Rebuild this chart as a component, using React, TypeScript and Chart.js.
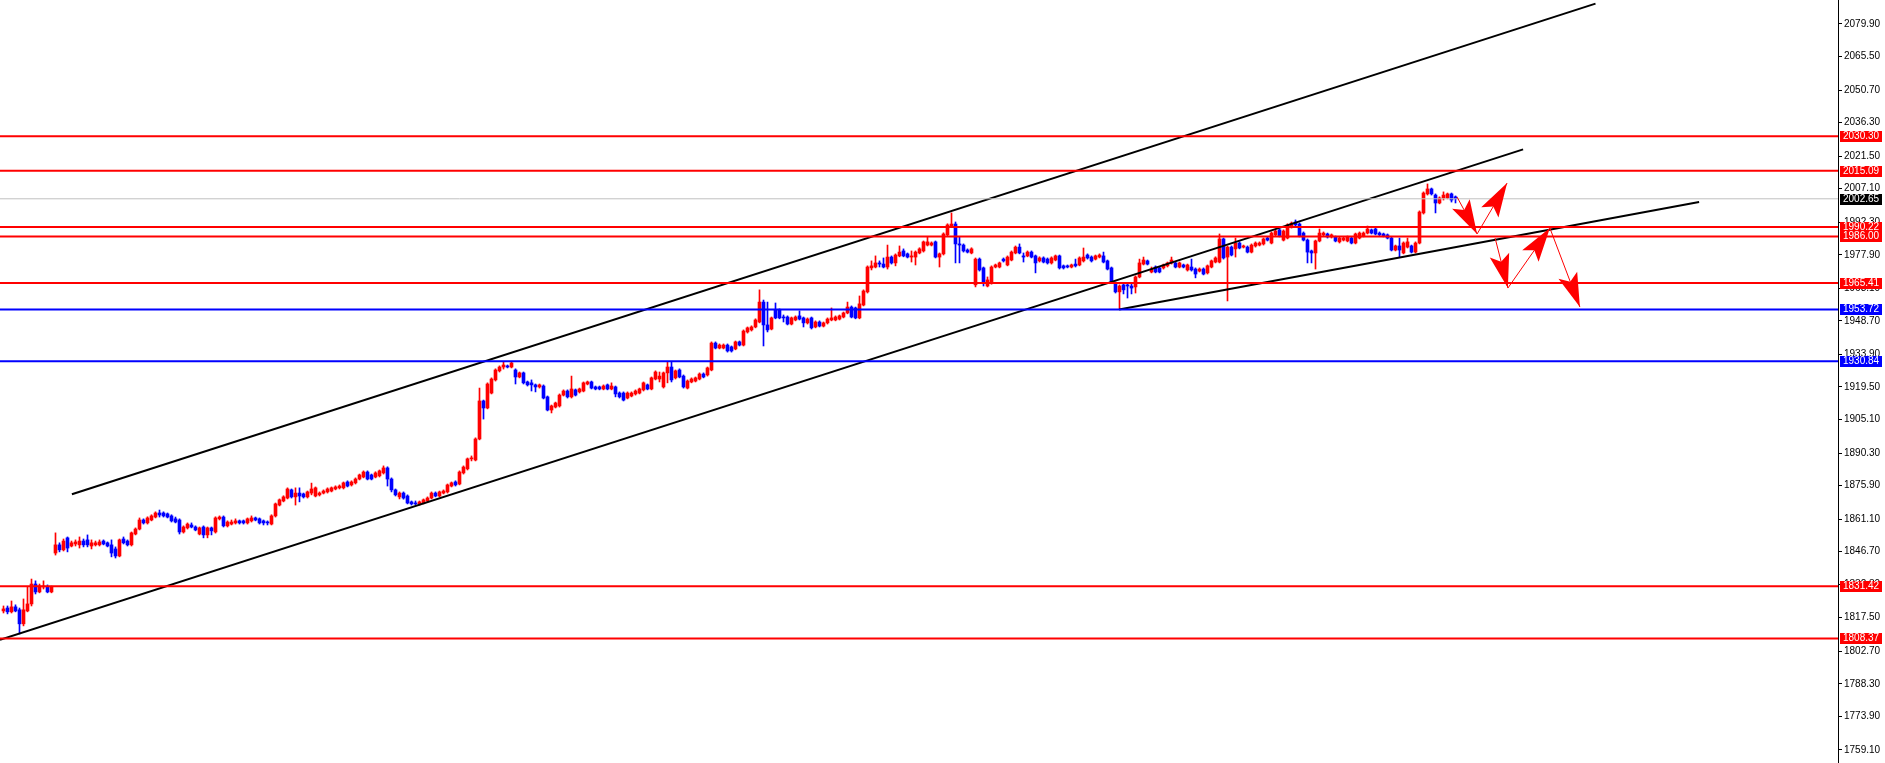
import React, { useEffect, useRef } from 'react';
import { Chart, registerables } from 'chart.js';

Chart.register(...registerables);

// ---- candle data (bar index 0..363), prices ----
const opens = [
  1820.5,1821.8,1820.1,1822.3,1821.0,1814.8,1820.5,1823.6,1832.4,1828.9,
  1831.1,1831.1,1828.9,1846.1,1849.7,1847.5,1852.8,1849.2,1850.1,1849.7,
  1851.4,1851.9,1849.2,1849.7,1849.7,1851.4,1850.6,1849.7,1847.9,1844.8,
  1852.3,1851.4,1849.7,1854.5,1856.7,1860.7,1859.4,1860.7,1862.0,1863.8,
  1863.8,1863.4,1862.5,1861.2,1860.7,1855.4,1857.2,1858.5,1857.6,1854.5,
  1857.6,1854.1,1857.2,1855.4,1861.2,1862.0,1858.1,1858.9,1859.4,1860.3,
  1860.3,1859.4,1860.3,1861.6,1861.2,1860.3,1859.8,1858.9,1862.5,1867.3,
  1869.1,1870.4,1874.0,1870.9,1872.6,1872.2,1870.9,1872.6,1871.3,1871.8,
  1872.6,1873.1,1873.5,1874.4,1874.9,1874.9,1877.5,1876.2,1877.1,1878.8,
  1879.7,1881.9,1880.6,1879.7,1880.2,1881.5,1883.7,1878.8,1874.0,1870.9,
  1872.6,1871.3,1868.7,1868.2,1867.8,1868.2,1869.1,1870.4,1872.6,1871.3,
  1872.6,1873.1,1875.7,1877.5,1876.6,1881.5,1883.3,1887.7,1887.2,1896.5,
  1913.3,1910.2,1916.8,1922.6,1926.6,1928.3,1928.8,1928.3,1927.0,1923.9,
  1925.7,1921.7,1921.3,1920.4,1919.5,1919.9,1915.1,1909.3,1910.6,1911.1,
  1915.9,1917.7,1915.1,1918.2,1917.3,1917.7,1920.8,1921.7,1919.5,1919.5,
  1918.6,1920.4,1918.6,1919.5,1916.8,1916.8,1914.6,1915.5,1916.4,1916.8,
  1918.2,1920.4,1918.6,1923.0,1923.0,1919.5,1925.7,1928.3,1923.5,1927.0,
  1924.3,1919.0,1921.7,1922.1,1923.0,1925.2,1924.8,1927.0,1938.9,1936.7,
  1936.7,1938.0,1937.2,1936.3,1939.4,1938.0,1943.8,1944.7,1946.0,1948.2,
  1957.0,1946.9,1945.1,1953.5,1953.5,1950.4,1950.4,1947.3,1949.1,1950.9,
  1950.0,1947.8,1950.0,1946.0,1948.2,1946.4,1947.8,1949.1,1949.1,1949.5,
  1950.4,1952.2,1954.8,1954.4,1950.0,1955.7,1961.5,1972.1,1972.5,1974.3,
  1973.8,1972.5,1976.9,1974.3,1977.4,1979.6,1978.3,1976.9,1976.9,1978.7,
  1979.6,1982.2,1982.2,1983.6,1976.9,1978.3,1986.7,1990.6,1991.5,1982.7,
  1982.2,1980.0,1978.7,1964.6,1976.0,1972.1,1964.1,1965.4,1972.5,1972.5,
  1976.0,1973.4,1975.6,1978.7,1981.3,1977.4,1977.4,1979.1,1977.4,1975.2,
  1976.5,1976.0,1974.3,1975.6,1977.4,1973.0,1973.0,1972.5,1973.8,1973.4,
  1975.2,1977.8,1976.9,1976.0,1976.9,1977.4,1975.2,1972.1,1965.0,1961.5,
  1964.6,1964.6,1964.1,1963.7,1968.1,1973.8,1975.2,1970.3,1972.5,1972.1,
  1972.1,1973.0,1974.3,1974.3,1972.5,1973.4,1971.2,1972.5,1971.6,1970.7,
  1971.6,1969.9,1972.5,1974.7,1974.7,1984.9,1976.9,1981.3,1980.5,1983.1,
  1981.3,1981.3,1979.1,1981.8,1982.2,1982.7,1985.3,1983.1,1986.7,1988.9,
  1984.4,1985.3,1990.2,1992.4,1991.5,1987.5,1984.4,1979.6,1978.7,1984.0,
  1986.7,1987.1,1985.8,1985.8,1983.6,1984.4,1984.0,1985.3,1983.1,1985.3,
  1986.2,1987.5,1988.9,1989.3,1987.5,1987.1,1986.7,1985.3,1980.0,1981.8,
  1978.7,1981.3,1981.8,1979.1,1983.1,1996.4,2004.8,2007.0,2004.3,2000.8,
  2003.0,2003.0,2004.8,2003.5,
];

const highs = [
  1822.7,1822.7,1824.9,1823.2,1821.8,1825.8,1831.1,1834.6,1833.8,1832.4,
  1833.8,1832.0,1831.5,1855.0,1850.6,1852.3,1853.2,1851.4,1851.9,1853.2,
  1852.3,1854.1,1851.9,1851.4,1851.9,1851.9,1851.0,1851.9,1848.8,1852.3,
  1853.2,1851.9,1855.4,1857.2,1861.6,1861.2,1862.1,1863.0,1864.3,1865.1,
  1864.3,1863.8,1863.0,1862.0,1861.2,1858.1,1859.4,1859.4,1858.1,1857.6,
  1858.1,1857.6,1857.6,1862.1,1862.5,1862.5,1860.3,1860.7,1861.2,1860.7,
  1860.7,1861.6,1862.5,1862.0,1861.6,1860.7,1860.3,1863.0,1868.2,1870.0,
  1871.4,1874.9,1874.4,1874.9,1874.9,1872.6,1873.5,1877.0,1875.3,1873.1,
  1874.0,1874.9,1875.3,1875.8,1876.2,1877.5,1878.0,1878.0,1879.3,1881.0,
  1882.4,1882.4,1881.0,1882.0,1882.8,1884.6,1884.2,1879.3,1874.4,1873.1,
  1873.1,1871.8,1869.1,1869.1,1869.1,1870.0,1870.9,1873.1,1873.1,1873.5,
  1874.0,1876.6,1877.5,1878.0,1882.4,1884.6,1888.1,1889.0,1897.0,1919.0,
  1913.7,1921.3,1923.5,1927.5,1928.8,1930.5,1929.2,1930.5,1927.5,1926.1,
  1926.1,1922.1,1922.6,1920.8,1920.8,1920.4,1915.5,1911.5,1912.8,1916.4,
  1918.2,1918.2,1924.3,1918.6,1919.0,1921.7,1922.1,1922.1,1919.9,1919.9,
  1920.4,1920.8,1921.3,1919.9,1917.3,1917.3,1917.3,1917.3,1918.2,1919.0,
  1921.7,1920.8,1923.9,1926.6,1926.1,1926.1,1930.5,1930.5,1927.0,1927.5,
  1924.8,1922.6,1923.5,1923.9,1925.7,1925.7,1928.3,1939.4,1939.4,1938.5,
  1938.5,1938.5,1937.6,1939.8,1939.8,1944.7,1946.0,1946.5,1949.6,1962.4,
  1957.9,1957.0,1950.4,1956.6,1954.0,1951.3,1950.9,1950.4,1950.9,1953.1,
  1950.4,1950.0,1950.4,1948.7,1948.7,1948.2,1950.0,1954.4,1950.9,1951.3,
  1952.6,1957.0,1955.3,1954.8,1959.7,1962.4,1973.0,1975.2,1977.4,1975.2,
  1976.5,1982.2,1977.4,1978.3,1981.8,1980.5,1978.7,1979.6,1979.6,1981.0,
  1984.0,1985.8,1983.6,1984.0,1978.7,1987.6,1991.6,1996.4,1992.4,1985.8,
  1982.7,1980.5,1981.0,1976.5,1976.5,1972.5,1968.1,1973.0,1973.8,1974.7,
  1976.5,1977.4,1979.6,1981.8,1982.7,1978.7,1979.6,1979.6,1977.8,1977.0,
  1977.0,1976.5,1977.0,1977.8,1977.8,1973.4,1973.4,1973.8,1976.0,1977.0,
  1980.9,1978.3,1977.4,1977.8,1978.3,1979.1,1975.6,1972.5,1965.9,1964.6,
  1965.0,1965.0,1965.0,1968.6,1976.0,1976.9,1975.6,1972.5,1973.0,1972.5,
  1973.8,1974.7,1976.9,1974.7,1974.7,1973.8,1973.8,1976.0,1972.1,1972.1,
  1972.1,1973.4,1975.6,1977.0,1987.1,1985.3,1981.8,1981.8,1985.3,1983.6,
  1982.2,1981.8,1982.7,1983.6,1983.6,1985.3,1985.8,1988.0,1988.9,1989.3,
  1988.9,1991.6,1992.4,1993.3,1992.0,1988.0,1984.9,1980.0,1984.4,1989.3,
  1988.0,1987.5,1987.1,1986.2,1985.8,1985.8,1986.2,1985.8,1987.5,1988.0,
  1988.0,1990.6,1989.3,1989.7,1988.0,1987.5,1987.1,1985.8,1982.2,1985.3,
  1983.6,1985.3,1982.2,1983.6,1997.3,2005.7,2009.2,2007.4,2004.8,2003.5,
  2005.7,2005.2,2005.2,2003.9,
];

const lows = [
  1819.6,1819.2,1819.6,1820.1,1810.3,1813.9,1820.1,1822.7,1828.0,1828.5,
  1830.2,1828.5,1828.5,1845.2,1846.6,1847.0,1846.6,1848.8,1849.2,1848.3,
  1848.8,1848.8,1847.9,1849.2,1849.2,1849.7,1848.8,1844.4,1843.9,1844.4,
  1850.1,1849.2,1849.2,1854.1,1856.3,1858.9,1858.9,1860.3,1861.6,1862.0,
  1862.0,1861.6,1859.8,1859.4,1854.5,1854.9,1856.7,1857.2,1855.9,1854.1,
  1852.8,1852.8,1854.1,1854.9,1860.7,1857.6,1857.6,1858.5,1858.9,1858.9,
  1858.9,1858.9,1859.8,1860.3,1858.9,1858.5,1858.5,1858.5,1862.0,1866.9,
  1868.7,1870.0,1870.4,1867.3,1868.7,1870.4,1870.4,1871.8,1870.9,1871.3,
  1872.2,1872.6,1873.1,1874.0,1874.4,1874.4,1875.3,1875.7,1876.6,1878.4,
  1879.3,1878.4,1878.4,1879.3,1879.7,1881.0,1875.7,1873.1,1871.3,1870.0,
  1869.9,1867.8,1867.3,1867.3,1867.3,1867.8,1868.7,1870.0,1870.9,1870.9,
  1872.2,1872.6,1875.3,1875.7,1876.2,1881.0,1882.8,1886.8,1886.8,1896.1,
  1905.3,1909.8,1916.4,1922.1,1926.1,1927.4,1927.9,1927.9,1920.8,1923.5,
  1920.8,1919.9,1917.7,1917.3,1919.0,1914.2,1908.9,1908.0,1910.2,1910.6,
  1915.5,1914.6,1914.6,1915.5,1916.8,1917.3,1920.4,1918.6,1918.2,1918.2,
  1918.2,1918.2,1918.2,1915.1,1914.6,1913.3,1914.2,1915.1,1915.9,1916.4,
  1917.7,1918.2,1918.2,1922.6,1921.7,1919.0,1921.3,1921.7,1923.0,1923.5,
  1919.0,1918.6,1921.3,1921.7,1922.6,1923.5,1924.3,1926.6,1936.3,1936.3,
  1936.3,1934.9,1934.9,1935.9,1937.6,1937.6,1943.3,1944.2,1945.6,1947.8,
  1937.6,1943.8,1944.7,1949.6,1949.6,1948.2,1946.9,1946.9,1948.7,1949.1,
  1946.0,1947.3,1945.1,1945.6,1946.0,1946.0,1947.3,1948.7,1948.7,1949.1,
  1950.0,1951.8,1950.0,1949.6,1949.6,1955.3,1961.0,1971.2,1972.1,1972.5,
  1972.1,1971.6,1973.8,1973.0,1977.0,1977.0,1976.5,1974.7,1973.4,1978.3,
  1979.1,1981.8,1981.8,1976.5,1972.5,1977.8,1986.2,1990.2,1974.3,1974.3,
  1979.1,1978.7,1978.3,1963.7,1970.7,1964.1,1963.7,1964.9,1972.1,1972.1,
  1974.7,1973.0,1975.2,1978.3,1978.3,1974.7,1977.0,1976.5,1969.9,1974.7,
  1974.3,1973.8,1973.8,1975.2,1971.6,1971.6,1972.1,1972.1,1972.5,1973.0,
  1974.7,1976.0,1974.7,1975.6,1976.5,1974.3,1971.2,1965.4,1961.0,1953.8,
  1960.6,1958.8,1960.6,1961.0,1967.7,1973.4,1973.4,1969.9,1969.9,1969.9,
  1971.6,1972.5,1973.8,1972.1,1972.1,1972.1,1970.7,1970.7,1967.7,1970.3,
  1969.0,1969.4,1972.1,1974.3,1974.3,1976.0,1957.5,1977.4,1976.9,1980.5,
  1980.9,1978.7,1978.7,1981.3,1981.8,1982.2,1984.0,1982.7,1986.2,1985.8,
  1984.0,1984.9,1989.7,1990.6,1985.8,1984.0,1974.3,1974.3,1971.6,1983.6,
  1986.2,1985.3,1985.3,1983.6,1983.1,1984.0,1983.6,1982.7,1982.7,1984.9,
  1985.8,1987.1,1987.1,1986.7,1986.2,1985.8,1984.9,1979.6,1979.6,1976.9,
  1978.3,1980.9,1978.7,1978.7,1982.7,1995.9,2004.3,2004.3,1996.4,2000.4,
  2002.1,2002.6,2001.2,2000.8,
];

const closes = [
  1821.4,1820.1,1822.3,1820.5,1814.8,1821.0,1823.6,1832.4,1828.9,1831.5,
  1831.5,1828.9,1831.1,1849.7,1847.5,1851.4,1848.3,1850.6,1851.0,1851.4,
  1849.7,1849.7,1850.6,1850.6,1851.0,1850.1,1849.2,1846.1,1844.8,1851.9,
  1850.6,1849.7,1855.0,1856.7,1860.7,1859.4,1861.6,1862.5,1863.8,1862.9,
  1862.5,1862.0,1860.3,1859.8,1855.4,1857.6,1858.9,1857.6,1856.3,1857.2,
  1854.1,1857.2,1855.9,1861.6,1862.0,1858.1,1859.8,1859.8,1860.3,1859.4,
  1859.4,1861.2,1861.6,1860.7,1859.4,1859.4,1859.4,1862.5,1867.8,1869.6,
  1870.9,1874.4,1870.9,1872.6,1871.3,1870.9,1873.1,1874.4,1874.9,1872.6,
  1873.5,1874.4,1874.9,1875.3,1875.7,1877.1,1875.7,1877.5,1878.8,1880.6,
  1881.9,1878.8,1878.8,1881.5,1882.4,1883.7,1878.8,1874.0,1871.8,1872.6,
  1870.4,1868.2,1867.8,1867.8,1868.7,1869.6,1870.4,1872.6,1871.3,1873.1,
  1873.5,1876.2,1877.1,1876.2,1881.9,1884.1,1887.7,1888.1,1896.5,1913.3,
  1910.2,1920.8,1923.0,1927.0,1928.3,1929.2,1928.3,1930.1,1923.9,1925.7,
  1921.3,1920.4,1920.4,1919.5,1920.4,1914.6,1909.3,1911.1,1912.4,1915.9,
  1917.7,1915.1,1918.6,1915.9,1918.6,1921.3,1921.7,1919.0,1918.6,1918.6,
  1919.9,1918.6,1919.9,1916.4,1915.1,1913.7,1916.8,1916.8,1917.7,1918.6,
  1921.3,1918.6,1923.5,1926.1,1924.3,1925.7,1928.3,1922.6,1926.6,1923.9,
  1919.5,1922.1,1923.0,1923.5,1925.2,1923.9,1927.9,1938.9,1936.7,1938.0,
  1938.0,1935.4,1935.4,1939.4,1938.0,1944.2,1945.6,1946.0,1949.1,1957.0,
  1946.9,1944.7,1950.0,1950.0,1950.0,1950.0,1947.3,1950.0,1950.4,1949.5,
  1947.8,1949.5,1945.6,1948.2,1946.4,1947.8,1949.5,1950.0,1950.4,1950.9,
  1952.2,1954.8,1950.4,1950.0,1956.2,1961.9,1972.5,1973.0,1974.3,1973.8,
  1972.5,1976.9,1974.3,1977.8,1979.1,1977.4,1976.9,1977.4,1979.1,1980.5,
  1983.6,1983.6,1983.1,1976.9,1978.3,1987.1,1991.1,1991.5,1982.7,1982.2,
  1979.6,1979.1,1980.5,1976.0,1971.2,1965.4,1966.8,1972.5,1973.4,1974.3,
  1975.2,1976.9,1979.1,1981.3,1978.7,1976.9,1979.1,1976.9,1974.3,1976.5,
  1974.7,1974.3,1976.5,1977.4,1972.1,1972.1,1972.5,1973.4,1973.0,1976.5,
  1976.9,1976.5,1975.2,1977.4,1977.8,1974.7,1971.6,1965.9,1961.5,1964.1,
  1962.4,1964.1,1963.2,1968.1,1974.3,1975.6,1973.8,1971.6,1970.3,1970.3,
  1973.4,1974.3,1975.6,1972.5,1974.3,1972.5,1973.4,1971.2,1969.4,1971.6,
  1969.4,1973.0,1975.2,1976.5,1984.9,1976.5,1981.3,1977.8,1983.1,1980.9,
  1981.8,1979.1,1982.2,1983.1,1983.1,1984.9,1984.4,1987.5,1988.4,1986.2,
  1988.4,1991.1,1991.9,1991.1,1986.2,1984.4,1979.1,1978.7,1984.0,1987.5,
  1987.5,1985.8,1986.7,1984.0,1985.3,1985.3,1985.8,1983.1,1987.1,1987.5,
  1987.5,1989.3,1987.5,1987.1,1986.7,1986.2,1985.3,1980.0,1981.8,1980.0,
  1983.1,1983.6,1979.1,1983.1,1996.8,2005.2,2007.0,2004.8,2000.8,2003.0,
  2004.3,2004.8,2002.1,2002.65,
];

// ---- price axis tick labels ----
const yTicks = [
  2079.9, 2065.5, 2050.7, 2036.3, 2021.5, 2007.1, 1992.3, 1977.9, 1963.1, 1948.7,
  1933.9, 1919.5, 1905.1, 1890.3, 1875.9, 1861.1, 1846.7, 1832.3, 1817.5, 1802.7,
  1788.3, 1773.9, 1759.1,
];

// ---- horizontal levels ----
const redLevels = [2030.3, 2015.09, 1990.22, 1986.0, 1965.41, 1831.42, 1808.37];
const blueLevels = [1953.72, 1930.84];
const bidLevel = 2002.65;

// ---- trend lines (bar index, price) ----
const channelUpperX = [17.1, 398.0];
const channelUpperY = [1872.1, 2088.9];
const channelLowerX = [-0.875, 379.9];
const channelLowerY = [1807.7, 2024.5];
const wedgeX = [278.9, 423.9];
const wedgeY = [1953.7, 2001.2];

// ---- projected arrows (bar index, price) ----
const arrowFromX = [363.4, 368.4, 372.9, 376.1, 386.6];
const arrowFromY = [2003.4, 1987.1, 1985.3, 1963.2, 1989.7];
const arrowToX = [368.4, 375.9, 376.1, 386.6, 394.1];
const arrowToY = [1987.1, 2009.6, 1963.2, 1989.7, 1954.8];

const X_MIN = -0.875;
const X_MAX = 458.625;
const Y_MIN = 1753.3;
const Y_MAX = 2090.5;

const RED = '#ff0000';
const BLUE = '#0000ff';
const FONT = "'Liberation Sans', Arial, sans-serif";
const FONT_SIZE = 10;

function lineDs(xs: number[], ys: number[], color: string, width: number) {
  return {
    type: 'line' as const,
    data: xs.map((x, k) => ({ x, y: ys[k] })),
    borderColor: color,
    borderWidth: width,
    pointRadius: 0,
    fill: false,
    tension: 0,
    order: 1,
  };
}

const overlayPlugin = {
  id: 'mtOverlay',
  afterDatasetsDraw(chart: any) {
    const { ctx } = chart;
    const xs = chart.scales.x;
    const ys = chart.scales.y;
    ctx.save();
    ctx.beginPath();
    ctx.rect(chart.chartArea.left, chart.chartArea.top, chart.chartArea.right - chart.chartArea.left, chart.chartArea.bottom - chart.chartArea.top);
    ctx.clip();
    ctx.strokeStyle = RED;
    ctx.fillStyle = RED;
    ctx.lineWidth = 1;
    for (let k = 0; k < arrowFromX.length; k++) {
      const x0 = xs.getPixelForValue(arrowFromX[k]);
      const y0 = ys.getPixelForValue(arrowFromY[k]);
      const x1 = xs.getPixelForValue(arrowToX[k]);
      const y1 = ys.getPixelForValue(arrowToY[k]);
      ctx.beginPath();
      ctx.moveTo(x0, y0);
      ctx.lineTo(x1, y1);
      ctx.stroke();
      const ang = Math.atan2(y1 - y0, x1 - x0);
      const len = 34;
      const hw = 10;
      const ux = Math.cos(ang), uy = Math.sin(ang);
      const bx = x1 - ux * len, by = y1 - uy * len;
      const nx = -uy, ny = ux;
      ctx.beginPath();
      ctx.moveTo(x1, y1);
      ctx.lineTo(bx + nx * hw, by + ny * hw);
      ctx.lineTo(x1 - ux * len * 0.8, y1 - uy * len * 0.8);
      ctx.lineTo(bx - nx * hw, by - ny * hw);
      ctx.closePath();
      ctx.fill();
    }
    ctx.restore();
  },
  afterDraw(chart: any) {
    const { ctx, chartArea } = chart;
    const ys = chart.scales.y;
    ctx.save();
    ctx.font = `${FONT_SIZE}px ${FONT}`;
    ctx.textBaseline = 'middle';
    ctx.textAlign = 'left';
    const box = (v: number, bg: string) => {
      const py = ys.getPixelForValue(v);
      ctx.fillStyle = bg;
      ctx.fillRect(chartArea.right + 2, Math.round(py) - 5, 42, 11);
      ctx.fillStyle = '#ffffff';
      ctx.fillText(v.toFixed(2), chartArea.right + 5, Math.round(py) + 0.5);
    };
    blueLevels.forEach((v) => box(v, BLUE));
    redLevels.forEach((v) => box(v, RED));
    box(bidLevel, '#000000');
    ctx.restore();
  },
};

export default function App() {
  const ref = useRef<HTMLCanvasElement | null>(null);

  useEffect(() => {
    document.body.style.margin = '0';
    const canvas = ref.current;
    if (!canvas) return;

    const idx = opens.map((_, i) => i);
    const colors = idx.map((i) => (closes[i] >= opens[i] ? RED : BLUE));

    const datasets: any[] = [
      {
        type: 'bar',
        data: idx.map((i) => ({ x: i, y: [lows[i], highs[i]] })),
        backgroundColor: colors,
        borderWidth: 0,
        barThickness: 1,
        grouped: false,
        order: 10,
      },
      {
        type: 'bar',
        data: idx.map((i) => ({ x: i, y: [Math.min(opens[i], closes[i]), Math.max(opens[i], closes[i])] })),
        backgroundColor: colors,
        borderWidth: 0,
        barThickness: 3,
        minBarLength: 1,
        grouped: false,
        order: 9,
      },
      lineDs([X_MIN, X_MAX], [bidLevel, bidLevel], '#c0c0c0', 1),
      ...redLevels.map((v) => lineDs([X_MIN, X_MAX], [v, v], RED, 2)),
      ...blueLevels.map((v) => lineDs([X_MIN, X_MAX], [v, v], BLUE, 2)),
      lineDs(channelUpperX, channelUpperY, '#000000', 2),
      lineDs(channelLowerX, channelLowerY, '#000000', 2),
      lineDs(wedgeX, wedgeY, '#000000', 2),
    ];

    const chart = new Chart(canvas, {
      type: 'bar',
      data: { datasets },
      options: {
        animation: false,
        responsive: false,
        devicePixelRatio: 1,
        events: [],
        layout: { padding: 0 },
        plugins: { legend: { display: false }, tooltip: { enabled: false }, title: { display: false } },
        scales: {
          x: {
            type: 'linear',
            min: X_MIN,
            max: X_MAX,
            offset: false,
            display: false,
          },
          y: {
            type: 'linear',
            position: 'right',
            min: Y_MIN,
            max: Y_MAX,
            grid: {
              display: true,
              drawOnChartArea: false,
              drawTicks: true,
              tickLength: 4,
              color: '#000000',
              lineWidth: 1,
            },
            border: { display: true, color: '#000000', width: 1 },
            ticks: {
              autoSkip: false,
              padding: 2,
              color: '#000000',
              font: { family: FONT, size: FONT_SIZE },
              callback: (v: any) => Number(v).toFixed(2),
            },
            afterBuildTicks: (s: any) => {
              s.ticks = yTicks.map((v) => ({ value: v }));
            },
            afterFit: (s: any) => {
              s.width = 47;
              s.paddingTop = 0;
              s.paddingBottom = 0;
            },
          },
        },
      } as any,
      plugins: [overlayPlugin],
    });

    return () => chart.destroy();
  }, []);

  return (
    <div style={{ width: 1885, height: 763, background: '#ffffff' }}>
      <canvas ref={ref} width={1885} height={763} style={{ display: 'block' }} />
    </div>
  );
}
